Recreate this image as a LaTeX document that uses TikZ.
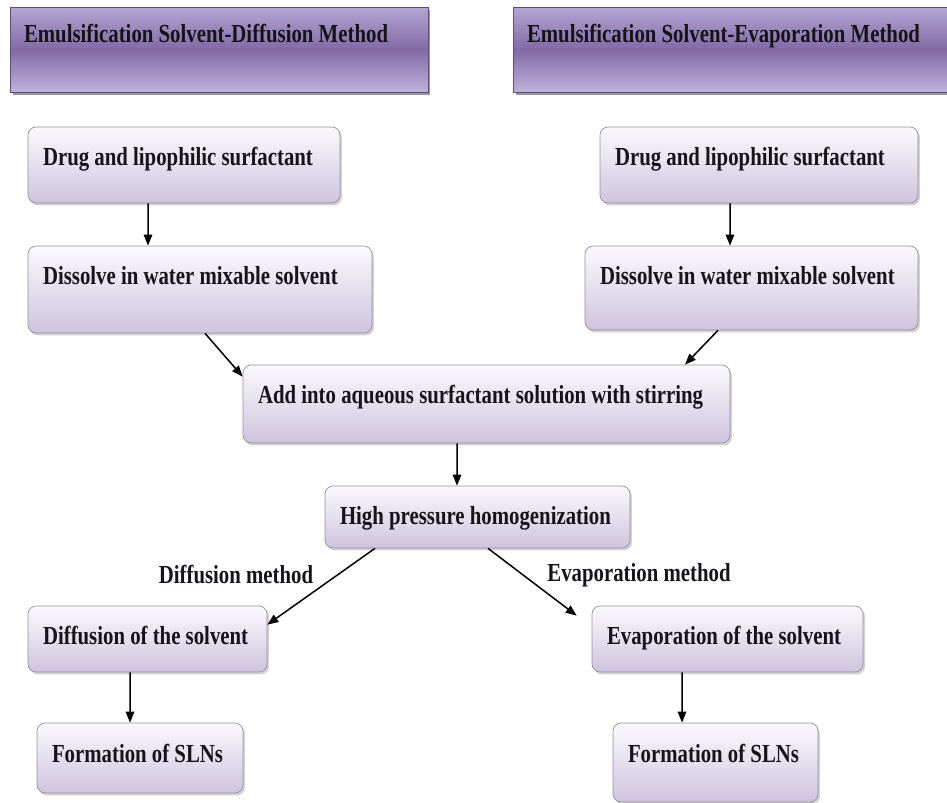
\documentclass[tikz,border=0pt]{standalone}
\usepackage{fontspec}
\setmainfont{Liberation Serif}[FakeStretch=0.8]
\usetikzlibrary{arrows.meta,shadows}
\definecolor{hdtop}{RGB}{180,166,210}
\definecolor{hdmid}{RGB}{130,106,166}
\definecolor{hdbot}{RGB}{192,178,220}
\definecolor{hdline}{RGB}{92,76,122}
\definecolor{bxtop}{RGB}{251,250,253}
\definecolor{bxbot}{RGB}{206,196,222}
\definecolor{bxline}{RGB}{150,142,162}
\definecolor{ink}{RGB}{22,20,26}

\begin{document}
\begin{tikzpicture}[x=0.02cm,y=-0.02cm,
    txt/.style={font=\fontsize{14.8}{17}\selectfont\bfseries,text=ink},
    header/.style={txt,draw=hdline,top color=hdtop,bottom color=hdbot,middle color=hdmid,
      drop shadow={shadow xshift=0.05cm,shadow yshift=-0.06cm,fill=hdline!60!black},
      align=flush left,inner xsep=0.28cm,inner ysep=0pt,text height=0.72cm,text depth=0.98cm},
    stepbox/.style={txt,draw=bxline,rounded corners=0.16cm,top color=bxtop,bottom color=bxbot,
      drop shadow={shadow xshift=0.04cm,shadow yshift=-0.05cm,fill=black!35},
      align=flush left,inner xsep=0.3cm,inner ysep=0pt,text height=0.78cm},
    arr/.style={-{Triangle[length=0.22cm,width=0.17cm]},line width=0.85pt,draw=black}]
  \useasboundingbox (0,0) rectangle (947,803);
  % Headers
  \node[header,text width=7.8cm] (hdL) at (219,49.5) {Emulsification Solvent-Diffusion Method};
  \node[header,text width=8.18cm] (hdR) at (731.5,49.5) {Emulsification Solvent-Evaporation Method};
  % Left branch
  \node[stepbox,text width=5.64cm,text depth=0.74cm] (drugL) at (184,165) {Drug and lipophilic surfactant};
  \node[stepbox,text width=6.28cm,text depth=0.96cm] (dissL) at (200,289.5) {Dissolve in water mixable solvent};
  % Right branch
  \node[stepbox,text width=5.76cm,text depth=0.74cm] (drugR) at (759,165) {Drug and lipophilic surfactant};
  \node[stepbox,text width=6.06cm,text depth=0.90cm] (dissR) at (751.5,288) {Dissolve in water mixable solvent};
  % Common steps
  \node[stepbox,text width=9.14cm,text depth=0.78cm] (add) at (486.5,404) {Add into aqueous surfactant solution with stirring};
  \node[stepbox,text width=5.5cm,text depth=0.46cm] (high) at (477.5,517) {High pressure homogenization};
  % Final steps
  \node[stepbox,text width=4.18cm,text depth=0.54cm] (diffL) at (147.5,639) {Diffusion of the solvent};
  \node[stepbox,text width=3.52cm,text depth=0.62cm] (formL) at (140,758) {Formation of SLNs};
  \node[stepbox,text width=4.82cm,text depth=0.54cm] (evapR) at (727.5,639) {Evaporation of the solvent};
  \node[stepbox,text width=3.5cm,text depth=0.80cm] (formR) at (715.5,762.5) {Formation of SLNs};
  % Labels
  \node[txt] (difflab) at (236,575) {Diffusion method};
  \node[txt] (evaplab) at (639,575) {Evaporation method};
  % Arrows
  \draw[arr] ([xshift=-0.72cm]drugL.south) -- ([xshift=-1.04cm]dissL.north);
  \draw[arr] ([xshift=-0.58cm]drugR.south) -- ([xshift=-0.43cm]dissR.north);
  \draw[arr] ([xshift=0.1cm]dissL.south) -- ([yshift=-0.24cm]add.north west);
  \draw[arr] ([xshift=-0.67cm]dissR.south) -- ([xshift=3.97cm]add.north);
  \draw[arr] ([xshift=-0.59cm]add.south) -- ([xshift=-0.41cm]high.north);
  \draw[arr] ([xshift=-2.05cm]high.south) -- ([yshift=-0.38cm]diffL.north east);
  \draw[arr] ([xshift=0.21cm]high.south) -- ([shift={(-0.3cm,-0.2cm)}]evapR.north west);
  \draw[arr] ([xshift=-0.35cm]diffL.south) -- ([xshift=-0.2cm]formL.north);
  \draw[arr] ([xshift=-0.91cm]evapR.south) -- ([xshift=-0.67cm]formR.north);
\end{tikzpicture}
\end{document}
